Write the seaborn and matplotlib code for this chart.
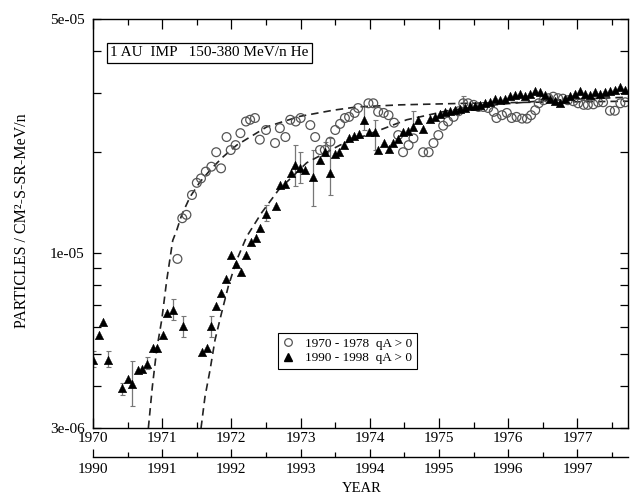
import numpy as np
import pandas as pd
import seaborn as sns
import matplotlib
matplotlib.use("Agg")
import matplotlib.pyplot as plt
from matplotlib.ticker import FixedLocator, FixedFormatter, NullFormatter
from matplotlib.lines import Line2D

# ---------------- data ----------------
# 1970-1978 (open circles)
circ_year = [1971.22, 1971.29, 1971.35, 1971.43, 1971.50, 1971.56, 1971.63, 1971.71, 1971.78, 1971.85,
             1971.93, 1971.99, 1972.06, 1972.13, 1972.21, 1972.27, 1972.34, 1972.41, 1972.50, 1972.63,
             1972.70, 1972.78, 1972.85, 1972.93, 1973.00, 1973.14, 1973.21, 1973.28, 1973.35, 1973.43,
             1973.50, 1973.57, 1973.64, 1973.70, 1973.78, 1973.83, 1973.98, 1974.05, 1974.12, 1974.20,
             1974.27, 1974.35, 1974.41, 1974.48, 1974.56, 1974.63, 1974.77, 1974.85, 1974.92, 1974.99,
             1975.06, 1975.13, 1975.21, 1975.28, 1975.35, 1975.42, 1975.50, 1975.57, 1975.64, 1975.71,
             1975.79, 1975.83, 1975.91, 1975.98, 1976.05, 1976.12, 1976.20, 1976.27, 1976.33, 1976.39,
             1976.44, 1976.51, 1976.58, 1976.65, 1976.72, 1976.79, 1976.86, 1976.94, 1977.01, 1977.09,
             1977.15, 1977.23, 1977.30, 1977.37, 1977.47, 1977.54, 1977.62, 1977.69]
circ_flux = [9.6e-6, 1.27e-5, 1.30e-5, 1.49e-5, 1.62e-5, 1.67e-5, 1.75e-5, 1.81e-5, 2.00e-5, 1.79e-5,
             2.22e-5, 2.03e-5, 2.10e-5, 2.28e-5, 2.47e-5, 2.50e-5, 2.53e-5, 2.18e-5, 2.33e-5, 2.13e-5,
             2.36e-5, 2.22e-5, 2.50e-5, 2.47e-5, 2.53e-5, 2.41e-5, 2.22e-5, 2.03e-5, 2.03e-5, 2.15e-5,
             2.33e-5, 2.43e-5, 2.53e-5, 2.55e-5, 2.62e-5, 2.71e-5, 2.80e-5, 2.80e-5, 2.64e-5, 2.62e-5,
             2.58e-5, 2.45e-5, 2.25e-5, 2.00e-5, 2.10e-5, 2.20e-5, 2.00e-5, 2.00e-5, 2.13e-5, 2.25e-5,
             2.40e-5, 2.47e-5, 2.55e-5, 2.65e-5, 2.80e-5, 2.80e-5, 2.77e-5, 2.73e-5, 2.73e-5, 2.71e-5,
             2.64e-5, 2.53e-5, 2.58e-5, 2.62e-5, 2.53e-5, 2.55e-5, 2.52e-5, 2.52e-5, 2.58e-5, 2.67e-5,
             2.80e-5, 2.86e-5, 2.90e-5, 2.93e-5, 2.90e-5, 2.89e-5, 2.86e-5, 2.84e-5, 2.80e-5, 2.77e-5,
             2.77e-5, 2.78e-5, 2.82e-5, 2.82e-5, 2.66e-5, 2.66e-5, 2.80e-5, 2.82e-5]

# 1990-1998 (filled triangles)
tri_year = [1990.00, 1990.08, 1990.15, 1990.22, 1990.42, 1990.50, 1990.57, 1990.65, 1990.71, 1990.78,
            1990.86, 1990.93, 1991.01, 1991.07, 1991.15, 1991.30, 1991.57, 1991.64, 1991.71, 1991.78,
            1991.85, 1991.92, 1991.99, 1992.07, 1992.14, 1992.21, 1992.29, 1992.35, 1992.42, 1992.50,
            1992.64, 1992.70, 1992.78, 1992.86, 1992.92, 1992.99, 1993.06, 1993.18, 1993.28, 1993.35,
            1993.43, 1993.50, 1993.56, 1993.63, 1993.70, 1993.77, 1993.84, 1993.91, 1993.99, 1994.07,
            1994.12, 1994.21, 1994.28, 1994.34, 1994.41, 1994.48, 1994.55, 1994.62, 1994.70, 1994.77,
            1994.87, 1994.94, 1995.01, 1995.09, 1995.16, 1995.23, 1995.30, 1995.38, 1995.45, 1995.52,
            1995.59, 1995.66, 1995.74, 1995.81, 1995.88, 1995.95, 1996.03, 1996.10, 1996.17, 1996.24,
            1996.31, 1996.39, 1996.46, 1996.53, 1996.60, 1996.68, 1996.75, 1996.82, 1996.89, 1996.97,
            1997.04, 1997.11, 1997.18, 1997.25, 1997.33, 1997.40, 1997.47, 1997.54, 1997.62, 1997.69]
tri_flux = [4.8e-6, 5.7e-6, 6.2e-6, 4.8e-6, 3.95e-6, 4.2e-6, 4.05e-6, 4.47e-6, 4.5e-6, 4.65e-6,
            5.2e-6, 5.2e-6, 5.7e-6, 6.6e-6, 6.76e-6, 6.05e-6, 5.05e-6, 5.2e-6, 6.05e-6, 6.95e-6,
            7.6e-6, 8.35e-6, 9.86e-6, 9.3e-6, 8.8e-6, 9.86e-6, 1.08e-5, 1.11e-5, 1.19e-5, 1.31e-5,
            1.38e-5, 1.60e-5, 1.61e-5, 1.73e-5, 1.83e-5, 1.79e-5, 1.77e-5, 1.69e-5, 1.90e-5, 2.00e-5,
            1.73e-5, 1.98e-5, 2.00e-5, 2.10e-5, 2.20e-5, 2.23e-5, 2.27e-5, 2.50e-5, 2.30e-5, 2.30e-5,
            2.03e-5, 2.13e-5, 2.05e-5, 2.13e-5, 2.19e-5, 2.30e-5, 2.32e-5, 2.38e-5, 2.50e-5, 2.35e-5,
            2.52e-5, 2.55e-5, 2.60e-5, 2.63e-5, 2.65e-5, 2.67e-5, 2.69e-5, 2.72e-5, 2.74e-5, 2.75e-5,
            2.77e-5, 2.80e-5, 2.82e-5, 2.88e-5, 2.86e-5, 2.89e-5, 2.94e-5, 2.97e-5, 2.99e-5, 2.94e-5,
            2.99e-5, 3.04e-5, 3.02e-5, 2.97e-5, 2.89e-5, 2.84e-5, 2.81e-5, 2.89e-5, 2.94e-5, 2.99e-5,
            3.04e-5, 2.99e-5, 2.97e-5, 3.02e-5, 2.99e-5, 3.02e-5, 3.04e-5, 3.07e-5, 3.14e-5, 3.07e-5]

# error bars (triangles)
err_year = [1990.00, 1990.22, 1990.42, 1990.57, 1990.78, 1991.15, 1991.30, 1991.71, 1992.50,
            1992.92, 1992.99, 1993.18, 1993.35, 1993.43, 1993.91, 1994.07, 1994.62]
err_mid = [4.8e-6, 4.8e-6, 3.95e-6, 4.05e-6, 4.65e-6, 6.76e-6, 6.05e-6, 6.05e-6, 1.31e-5,
           1.83e-5, 1.79e-5, 1.69e-5, 2.00e-5, 1.73e-5, 2.50e-5, 2.30e-5, 2.38e-5]
err_lo = [4.55e-6, 4.55e-6, 3.76e-6, 3.5e-6, 4.5e-6, 6.3e-6, 5.6e-6, 5.6e-6, 1.25e-5,
          1.58e-5, 1.62e-5, 1.38e-5, 1.95e-5, 1.49e-5, 2.33e-5, 2.03e-5, 2.35e-5]
err_hi = [5.1e-6, 5.1e-6, 4.1e-6, 4.75e-6, 4.9e-6, 7.3e-6, 6.5e-6, 6.5e-6, 1.39e-5,
          2.10e-5, 2.00e-5, 2.03e-5, 2.15e-5, 2.20e-5, 2.74e-5, 2.50e-5, 2.65e-5]
# error bar (circle)
cerr_year = [1975.35]
cerr_mid = [2.80e-5]
cerr_lo = [2.72e-5]
cerr_hi = [2.95e-5]

# dashed fit curves
fit70_year = [1970.80, 1970.857, 1970.921, 1970.993, 1971.066, 1971.152, 1971.210, 1971.282, 1971.402,
              1971.546, 1971.715, 1971.883, 1972.077, 1972.269, 1972.510, 1972.750, 1972.991, 1973.472,
              1973.811, 1974.436, 1975.400, 1976.358, 1977.731]
fit70_flux = [3.0e-6, 3.98e-6, 5.16e-6, 6.31e-6, 8.31e-6, 1.09e-5, 1.17e-5, 1.30e-5, 1.47e-5,
              1.63e-5, 1.79e-5, 1.94e-5, 2.10e-5, 2.22e-5, 2.38e-5, 2.47e-5, 2.56e-5, 2.67e-5,
              2.73e-5, 2.77e-5, 2.80e-5, 2.82e-5, 2.84e-5]
fit90_year = [1991.561, 1991.618, 1991.691, 1991.763, 1991.860, 1991.955, 1992.077, 1992.221, 1992.438,
              1992.678, 1993.088, 1993.569, 1994.147, 1994.533, 1995.16, 1995.88, 1996.60, 1997.73]
fit90_flux = [3.0e-6, 3.72e-6, 4.47e-6, 5.5e-6, 6.65e-6, 7.95e-6, 9.53e-6, 1.12e-5, 1.32e-5,
              1.54e-5, 1.86e-5, 2.10e-5, 2.33e-5, 2.50e-5, 2.67e-5, 2.78e-5, 2.86e-5, 2.92e-5]

ytick_vals = [3e-6, 1e-5, 5e-5]
ytick_labels = ["3e-06", "1e-05", "5e-05"]
ytick_minor = [4e-6, 5e-6, 6e-6, 7e-6, 8e-6, 9e-6, 2e-5, 3e-5, 4e-5]
years_top = list(range(1970, 1978))
years_bottom = list(range(1990, 1998))
YEAR_OFFSET = 20

title_text = "1 AU  IMP   150-380 MeV/n He"
legend_labels = ["1970 - 1978  qA > 0", "1990 - 1998  qA > 0"]

# ---------------- style ----------------
sns.set_theme(style="ticks")
plt.rcParams["font.family"] = ["Liberation Serif", "DejaVu Serif"]
plt.rcParams["axes.edgecolor"] = "black"
plt.rcParams["axes.linewidth"] = 1.0
plt.rcParams["xtick.color"] = "black"
plt.rcParams["ytick.color"] = "black"
plt.rcParams["text.color"] = "black"

fig = plt.figure(figsize=(6.34, 4.96), dpi=100)
ax = fig.add_axes([0.1467, 0.1371, 0.8438, 0.8246])

df70 = pd.DataFrame({"year": circ_year, "flux": circ_flux})
df90 = pd.DataFrame({"year": np.array(tri_year) - YEAR_OFFSET, "flux": tri_flux})
f70 = pd.DataFrame({"year": fit70_year, "flux": fit70_flux})
f90 = pd.DataFrame({"year": np.array(fit90_year) - YEAR_OFFSET, "flux": fit90_flux})

# error bars
ey = np.array(err_year) - YEAR_OFFSET
em = np.array(err_mid)
ax.errorbar(ey, em, yerr=[em - np.array(err_lo), np.array(err_hi) - em], fmt="none",
            ecolor="#777777", elinewidth=0.9, capsize=1.8, capthick=0.8, zorder=1)
cm = np.array(cerr_mid)
ax.errorbar(cerr_year, cm, yerr=[cm - np.array(cerr_lo), np.array(cerr_hi) - cm], fmt="none",
            ecolor="#777777", elinewidth=0.9, capsize=1.8, capthick=0.8, zorder=1)

# fit curves
sns.lineplot(data=f70, x="year", y="flux", sort=False, estimator=None, ax=ax,
             color="#222222", linewidth=1.2, linestyle=(0, (4.5, 3)), zorder=2)
sns.lineplot(data=f90, x="year", y="flux", sort=False, estimator=None, ax=ax,
             color="#222222", linewidth=1.2, linestyle=(0, (4.5, 3)), zorder=2)

# data
sns.scatterplot(data=df70, x="year", y="flux", marker="o", s=40, facecolors="none",
                edgecolor="#555555", linewidth=0.9, ax=ax, zorder=3)
sns.scatterplot(data=df90, x="year", y="flux", marker="^", s=38, color="black",
                edgecolor="black", linewidth=0.3, ax=ax, zorder=4)

ax.set_yscale("log")
ax.set_ylim(3e-6, 5e-5)
ax.set_xlim(1970, 1977.73)
ax.set_xlabel("")
ax.set_ylabel("")

ax.yaxis.set_major_locator(FixedLocator(ytick_vals))
ax.yaxis.set_major_formatter(FixedFormatter(ytick_labels))
ax.yaxis.set_minor_locator(FixedLocator(ytick_minor))
ax.yaxis.set_minor_formatter(NullFormatter())
ax.tick_params(axis="y", which="both", direction="in", left=True, right=True,
               length=5.5, width=0.9, labelsize=11, pad=6)

ax.xaxis.set_major_locator(FixedLocator(years_top))
ax.xaxis.set_major_formatter(FixedFormatter([str(y) for y in years_top]))
ax.xaxis.set_minor_locator(FixedLocator([y + 0.5 for y in years_top]))
ax.tick_params(axis="x", which="major", direction="in", top=True, bottom=True,
               length=7, width=0.9, labelsize=11, pad=3)
ax.tick_params(axis="x", which="minor", direction="in", top=True, bottom=True,
               length=4, width=0.9)

sec = ax.secondary_xaxis(-0.0709, functions=(lambda x: x + YEAR_OFFSET, lambda x: x - YEAR_OFFSET))
sec.xaxis.set_major_locator(FixedLocator(years_bottom))
sec.xaxis.set_major_formatter(FixedFormatter([str(y) for y in years_bottom]))
sec.xaxis.set_minor_locator(FixedLocator([y + 0.5 for y in years_bottom]))
sec.tick_params(axis="x", which="major", direction="in", length=6, width=0.9, labelsize=11, pad=4)
sec.tick_params(axis="x", which="minor", direction="in", length=3.5, width=0.9)
sec.spines["bottom"].set_linewidth(1.0)

# title box
ax.text(0.032, 0.9176, title_text, transform=ax.transAxes, ha="left", va="center",
        fontsize=11, bbox=dict(boxstyle="square,pad=0.22", facecolor="white",
                               edgecolor="black", linewidth=0.9))

# legend
handles = [Line2D([], [], marker="o", linestyle="none", markerfacecolor="none",
                  markeredgecolor="#555555", markersize=5.5, markeredgewidth=0.9),
           Line2D([], [], marker="^", linestyle="none", color="black", markersize=5.5)]
leg = ax.legend(handles, legend_labels, loc="upper left", bbox_to_anchor=(0.346, 0.233),
                borderaxespad=0, frameon=True, fancybox=False, framealpha=1,
                edgecolor="black", fontsize=9.5, handlelength=0.8, handletextpad=0.9,
                borderpad=0.35, labelspacing=0.2)
leg.get_frame().set_linewidth(0.8)

fig.text(22 / 634, 1 - 221 / 496, "PARTICLES / CM²-S-SR-MeV/n", rotation=90,
         ha="center", va="center", fontsize=11.5)
fig.text(361.7 / 634, 1 - 488 / 496, "YEAR", ha="center", va="center", fontsize=10.5)

fig.savefig("out.png", dpi=100)
